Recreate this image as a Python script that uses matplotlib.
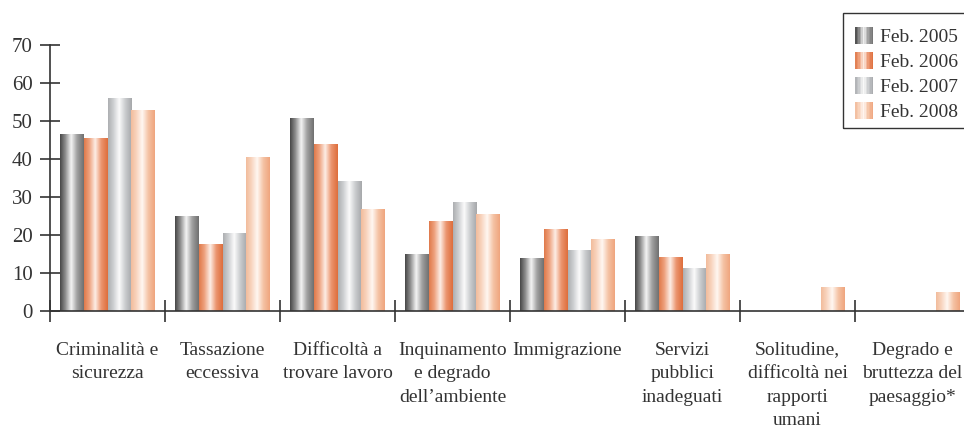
import numpy as np
import matplotlib
matplotlib.use("Agg")
import matplotlib.pyplot as plt
from matplotlib.colors import LinearSegmentedColormap
from matplotlib.patches import Rectangle
from matplotlib.legend_handler import HandlerBase

plt.rcParams['font.family'] = ['Liberation Serif', 'DejaVu Serif']

categories = [
    "Criminalità e\nsicurezza",
    "Tassazione\neccessiva",
    "Difficoltà a\ntrovare lavoro",
    "Inquinamento\ne degrado\ndell\u2019ambiente",
    "Immigrazione",
    "Servizi\npubblici\ninadeguati",
    "Solitudine,\ndifficoltà nei\nrapporti\numani",
    "Degrado e\nbruttezza del\npaesaggio*",
]
series_names = ["Feb. 2005", "Feb. 2006", "Feb. 2007", "Feb. 2008"]
feb_2005 = [46.5, 24.8, 50.7, 14.8, 13.7, 19.5, np.nan, np.nan]
feb_2006 = [45.4, 17.4, 43.9, 23.5, 21.4, 14.0, np.nan, np.nan]
feb_2007 = [55.9, 20.3, 34.0, 28.5, 15.8, 11.3, np.nan, np.nan]
feb_2008 = [52.8, 40.4, 26.6, 25.3, 18.7, 14.8, 6.1, 4.8]
values = [feb_2005, feb_2006, feb_2007, feb_2008]

# cylinder-like shading: left edge, highlight, right edge
shades = [
    ["#484848", "#8e8e8e", "#f4f4f4", "#a0a0a0", "#707070"],
    ["#e07a4c", "#eea27e", "#fdeee6", "#eb9670", "#de6e3c"],
    ["#adafb2", "#cdcfd1", "#fbfbfb", "#cbcdcf", "#a6a8ab"],
    ["#f2bc9c", "#f8d4be", "#fff7f2", "#f5c4a6", "#efa57e"],
]
cmaps = [LinearSegmentedColormap.from_list("s%d" % i, list(zip([0, 0.22, 0.47, 0.72, 1], c)))
         for i, c in enumerate(shades)]
ramp = np.linspace(0, 1, 64)[None, :]

W, H = 964, 429
fig = plt.figure(figsize=(W / 100, H / 100), dpi=100)
ax = fig.add_axes([50 / W, 118 / H, 920 / W, 266 / H])

bar_w = 0.207
n = len(categories)
for i, vals in enumerate(values):
    for g in range(n):
        v = vals[g]
        if np.isnan(v):
            continue
        x0 = g + 0.5 + (i - 2) * bar_w
        ax.imshow(ramp, extent=[x0, x0 + bar_w, 0, v], aspect='auto',
                  cmap=cmaps[i], interpolation='bilinear', zorder=2)

ax.set_xlim(0, n)
ax.set_ylim(0, 70)

for s in ['top', 'right']:
    ax.spines[s].set_visible(False)
ax.spines['left'].set_color('#333333')
ax.spines['bottom'].set_color('#333333')
ax.spines['left'].set_linewidth(1.2)
ax.spines['bottom'].set_linewidth(1.2)

ax.set_yticks(range(0, 71, 10))
ax.tick_params(axis='y', direction='inout', length=15, width=1.2, color='#333333',
               labelsize=15, labelcolor='#333333', pad=5)
ax.set_xticks(np.arange(n) + 0.5)
ax.set_xticklabels(categories, linespacing=1.5)
ax.tick_params(axis='x', which='major', length=0, pad=22, labelsize=14, labelcolor='#333333')
ax.set_xticks(np.arange(n + 1), minor=True)
ax.tick_params(axis='x', which='minor', direction='inout', length=16, width=1.2, color='#333333')
for t in ax.get_xticklabels():
    t.set_verticalalignment('top')


class GradientHandler(HandlerBase):
    def __init__(self, cmap):
        super().__init__()
        self.cmap = cmap

    def create_artists(self, legend, orig_handle, xdescent, ydescent, width, height, fontsize, trans):
        parts = []
        k = 12
        for j in range(k):
            r = Rectangle((-xdescent + width * j / k, -ydescent), width / k, height,
                          facecolor=self.cmap((j + 0.5) / k), edgecolor='none', transform=trans)
            parts.append(r)
        return parts


proxies = [Rectangle((0, 0), 1, 1) for _ in series_names]
leg = ax.legend(proxies, series_names,
                handler_map={p: GradientHandler(c) for p, c in zip(proxies, cmaps)},
                loc='upper left', bbox_to_anchor=(855 / W, 1 - 27 / H),
                bbox_transform=fig.transFigure, fontsize=14, frameon=False,
                handlelength=0.95, handleheight=0.95, handletextpad=0.35, labelspacing=0.31,
                borderpad=0, borderaxespad=0)
for t in leg.get_texts():
    t.set_color('#333333')

# legend box, running off the right edge
fig.patches.append(Rectangle((843 / W, 1 - 128 / H), 140 / W, 115 / H, transform=fig.transFigure,
                             facecolor='none', edgecolor='#333333', linewidth=1.0))

fig.savefig("out.png", dpi=100)
